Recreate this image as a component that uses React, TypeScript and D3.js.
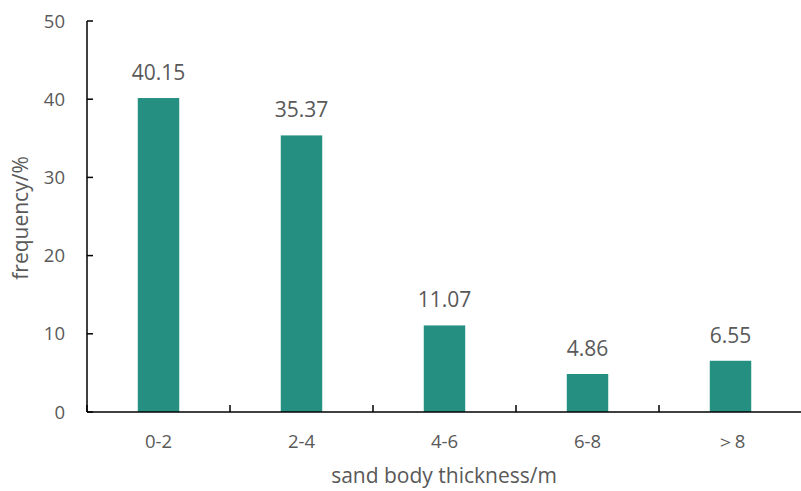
import React from "react";
import * as d3 from "d3";

const categories = ["0-2", "2-4", "4-6", "6-8", "＞8"];
const frequency = [40.15, 35.37, 11.07, 4.86, 6.55];
const yTicks = [0, 10, 20, 30, 40, 50];

const W = 801;
const H = 491;
const left = 87;
const right = 802;
const top = 21;
const bottom = 412;
const font = "'Open Sans', 'Liberation Sans', sans-serif";
const textColor = "#595959";
const barColor = "#258F82";

export default function App() {
  const x = d3.scaleBand<string>().domain(categories).range([left, right]).paddingInner(0.71).paddingOuter(0.355);
  const band = d3.scaleBand<string>().domain(categories).range([left, right]).padding(0);
  const y = d3.scaleLinear().domain([0, 50]).range([bottom, top]);
  const bounds = categories.map((c) => band(c)!).concat([right]);
  return (
    <svg width={W} height={H} style={{ position: "absolute", left: 0, top: 0, background: "#fff" }}>
      {categories.map((c, i) => (
        <g key={c}>
          <rect x={x(c)!} y={y(frequency[i])} width={x.bandwidth()} height={y(0) - y(frequency[i])} fill={barColor} />
          <text x={x(c)! + x.bandwidth() / 2} y={y(frequency[i]) - 18} textAnchor="middle" fontFamily={font} fontSize={21} fill={textColor}>
            {frequency[i].toFixed(2)}
          </text>
          <text x={band(c)! + band.bandwidth() / 2} y={448} textAnchor="middle" fontFamily={font} fontSize={18.5} fill={textColor}>
            {c}
          </text>
        </g>
      ))}
      <line x1={left} x2={left} y1={y(50)} y2={bottom} stroke="#000" strokeWidth={1.5} />
      <line x1={left} x2={right} y1={bottom} y2={bottom} stroke="#000" strokeWidth={1.5} />
      {yTicks.map((t) => (
        <g key={t}>
          <line x1={left} x2={left + 6} y1={y(t)} y2={y(t)} stroke="#000" strokeWidth={1.5} />
          <text x={65} y={y(t) + 6.5} textAnchor="end" fontFamily={font} fontSize={18.5} fill={textColor}>
            {t}
          </text>
        </g>
      ))}
      {bounds.map((b, i) => (
        <line key={i} x1={b} x2={b} y1={bottom} y2={bottom - 7} stroke="#000" strokeWidth={1.5} />
      ))}
      <text x={444} y={483} textAnchor="middle" fontFamily={font} fontSize={21} fill={textColor}>
        sand body thickness/m
      </text>
      <text transform={`translate(28, 218) rotate(-90)`} textAnchor="middle" fontFamily={font} fontSize={21} fill={textColor}>
        frequency/%
      </text>
    </svg>
  );
}
